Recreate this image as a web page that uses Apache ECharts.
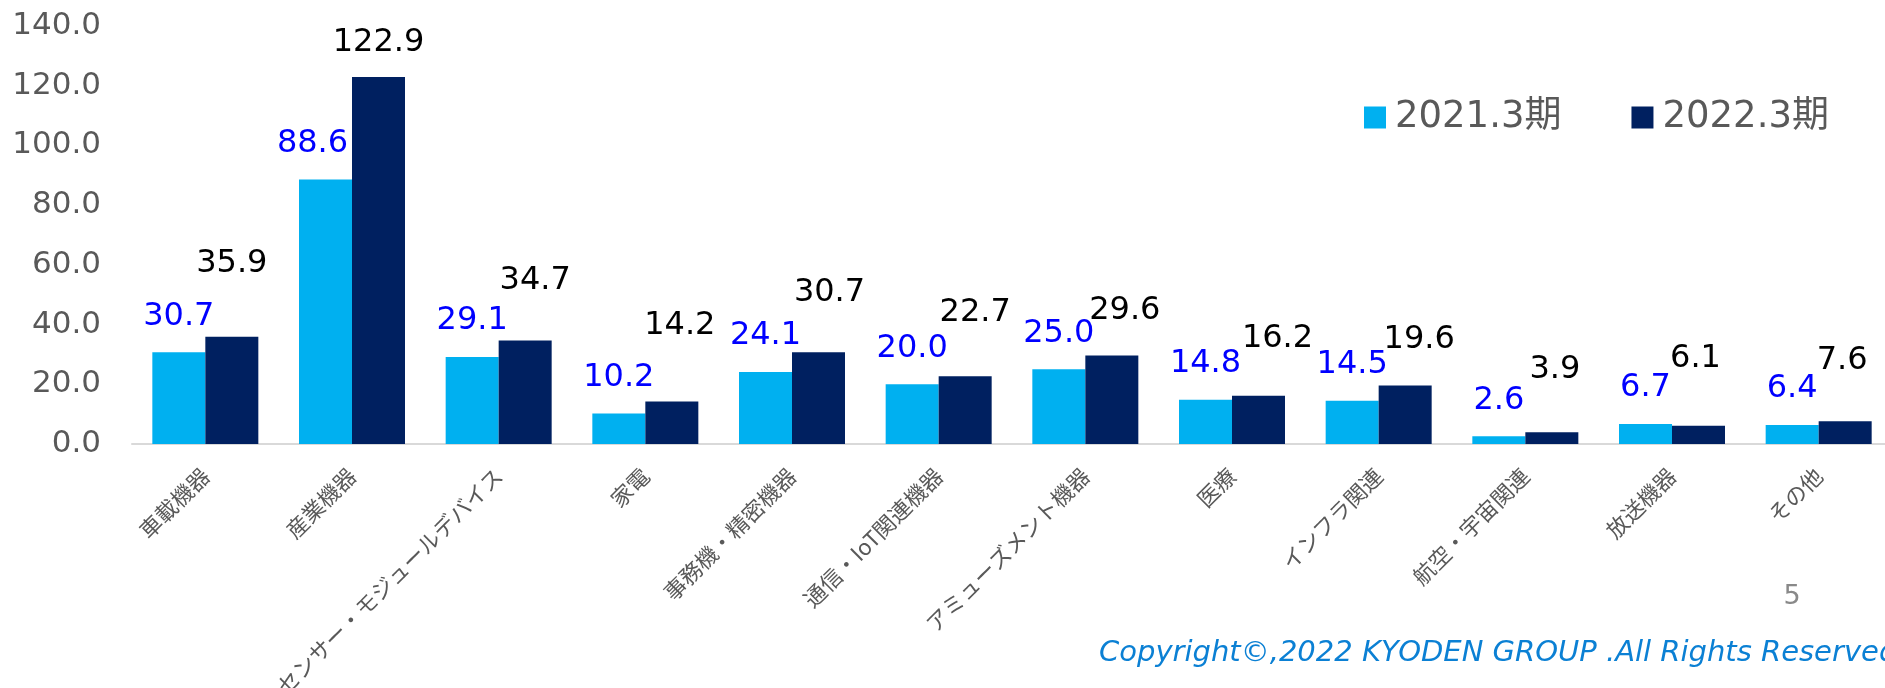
<!DOCTYPE html>
<html>
<head>
<meta charset="utf-8">
<script src="https://cdn.jsdelivr.net/npm/echarts@6/dist/echarts.min.js"></script>
<style>
	html, body { margin: 0; padding: 0; background: #ffffff; }
	#chart { width: 1885px; height: 688px; }
</style>
</head>
<body>
<div id="chart"></div>
<script>
// 分野別の売上（2021.3期 / 2022.3期）
var categories = ['車載機器', '産業機器', 'センサー・モジュールデバイス', '家電', '事務機・精密機器', '通信・IoT関連機器',
	'アミューズメント機器', '医療', 'インフラ関連', '航空・宇宙関連', '放送機器', 'その他'];
var seriesNames = ['2021.3期', '2022.3期'];
var values2021 = [30.7, 88.6, 29.1, 10.2, 24.1, 20.0, 25.0, 14.8, 14.5, 2.6, 6.7, 6.4];
var values2022 = [35.9, 122.9, 34.7, 14.2, 30.7, 22.7, 29.6, 16.2, 19.6, 3.9, 6.1, 7.6];
var yMin = 0;
var yMax = 140;
var yStep = 20;

// 手で動かされたデータラベルのずれ [dx, dy]
var nudge2021 = [[0, 0], [-13, 0], [0, 0], [0, 0], [0, 0], [0, 0], [0, 0], [0, 0], [0, 0], [0, 0], [0, 0], [0, 0]];
var nudge2022 = [[0, -37], [0, 2], [10, -24], [8, -40], [11, -24], [10, -28], [13, -9], [19, -21], [14, -10], [3, -27], [-3, -31], [-3, -25]];

var numFont = "'DejaVu Sans', Verdana, 'Noto Sans CJK JP', sans-serif";
var jpFont = "'Noto Sans CJK JP', sans-serif";

function toItems(values, nudge) {
	var list = [];
	for(var i = 0; i < values.length; i++) {
		list.push({
			value: values[i],
			label: { offset: nudge[i] }
		});
	}
	return list;
}

var myChart = echarts.init(document.getElementById('chart'));

var option = {
	backgroundColor: '#ffffff',
	animation: false,
	grid: {
		left: 132,
		top: 26,
		width: 1760,
		height: 418,
		outerBoundsMode: 'none',
		containLabel: false
	},
	legend: {
		left: 1359,
		top: 94,
		itemWidth: 22,
		itemHeight: 22,
		itemGap: 70,
		icon: 'rect',
		data: seriesNames,
		textStyle: {
			color: '#595959',
			fontSize: 37,
			fontFamily: numFont,
			padding: [0, 0, 0, 4]
		}
	},
	xAxis: {
		type: 'category',
		data: categories,
		axisTick: { show: false },
		axisLine: {
			show: true,
			lineStyle: { color: '#d9d9d9', width: 2 }
		},
		axisLabel: {
			interval: 0,
			rotate: 45,
			margin: 28,
			color: '#595959',
			fontSize: 22,
			fontFamily: jpFont
		},
		splitLine: { show: false }
	},
	yAxis: {
		type: 'value',
		min: yMin,
		max: yMax,
		interval: yStep,
		axisLine: { show: false },
		axisTick: { show: false },
		splitLine: { show: false },
		axisLabel: {
			margin: 31,
			color: '#595959',
			fontSize: 31,
			fontFamily: numFont,
			formatter: function(v) {
				return v.toFixed(1);
			}
		}
	},
	series: [{
			name: seriesNames[0],
			type: 'bar',
			barWidth: 53,
			barGap: '0%',
			itemStyle: { color: '#00b0f0' },
			label: {
				show: true,
				position: 'top',
				distance: 20,
				color: '#0000ff',
				fontSize: 32,
				fontFamily: numFont,
				formatter: function(p) {
					return p.value.toFixed(1);
				}
			},
			data: toItems(values2021, nudge2021)
		},
		{
			name: seriesNames[1],
			type: 'bar',
			barWidth: 53,
			barGap: '0%',
			itemStyle: { color: '#002060' },
			label: {
				show: true,
				position: 'top',
				distance: 20,
				color: '#000000',
				fontSize: 32,
				fontFamily: numFont,
				formatter: function(p) {
					return p.value.toFixed(1);
				}
			},
			data: toItems(values2022, nudge2022)
		}
	],
	graphic: [{
			type: 'text',
			style: {
				text: '5',
				x: 1792,
				y: 597,
				align: 'center',
				verticalAlign: 'middle',
				fill: '#898989',
				font: "27px 'DejaVu Sans', sans-serif"
			}
		},
		{
			type: 'text',
			style: {
				text: 'Copyright©,2022 KYODEN GROUP .All Rights Reserved',
				x: 1099,
				y: 653,
				align: 'left',
				verticalAlign: 'middle',
				fill: '#0b80d4',
				font: "italic 29px 'DejaVu Sans', sans-serif"
			}
		}
	]
};

myChart.setOption(option);
</script>
</body>
</html>
